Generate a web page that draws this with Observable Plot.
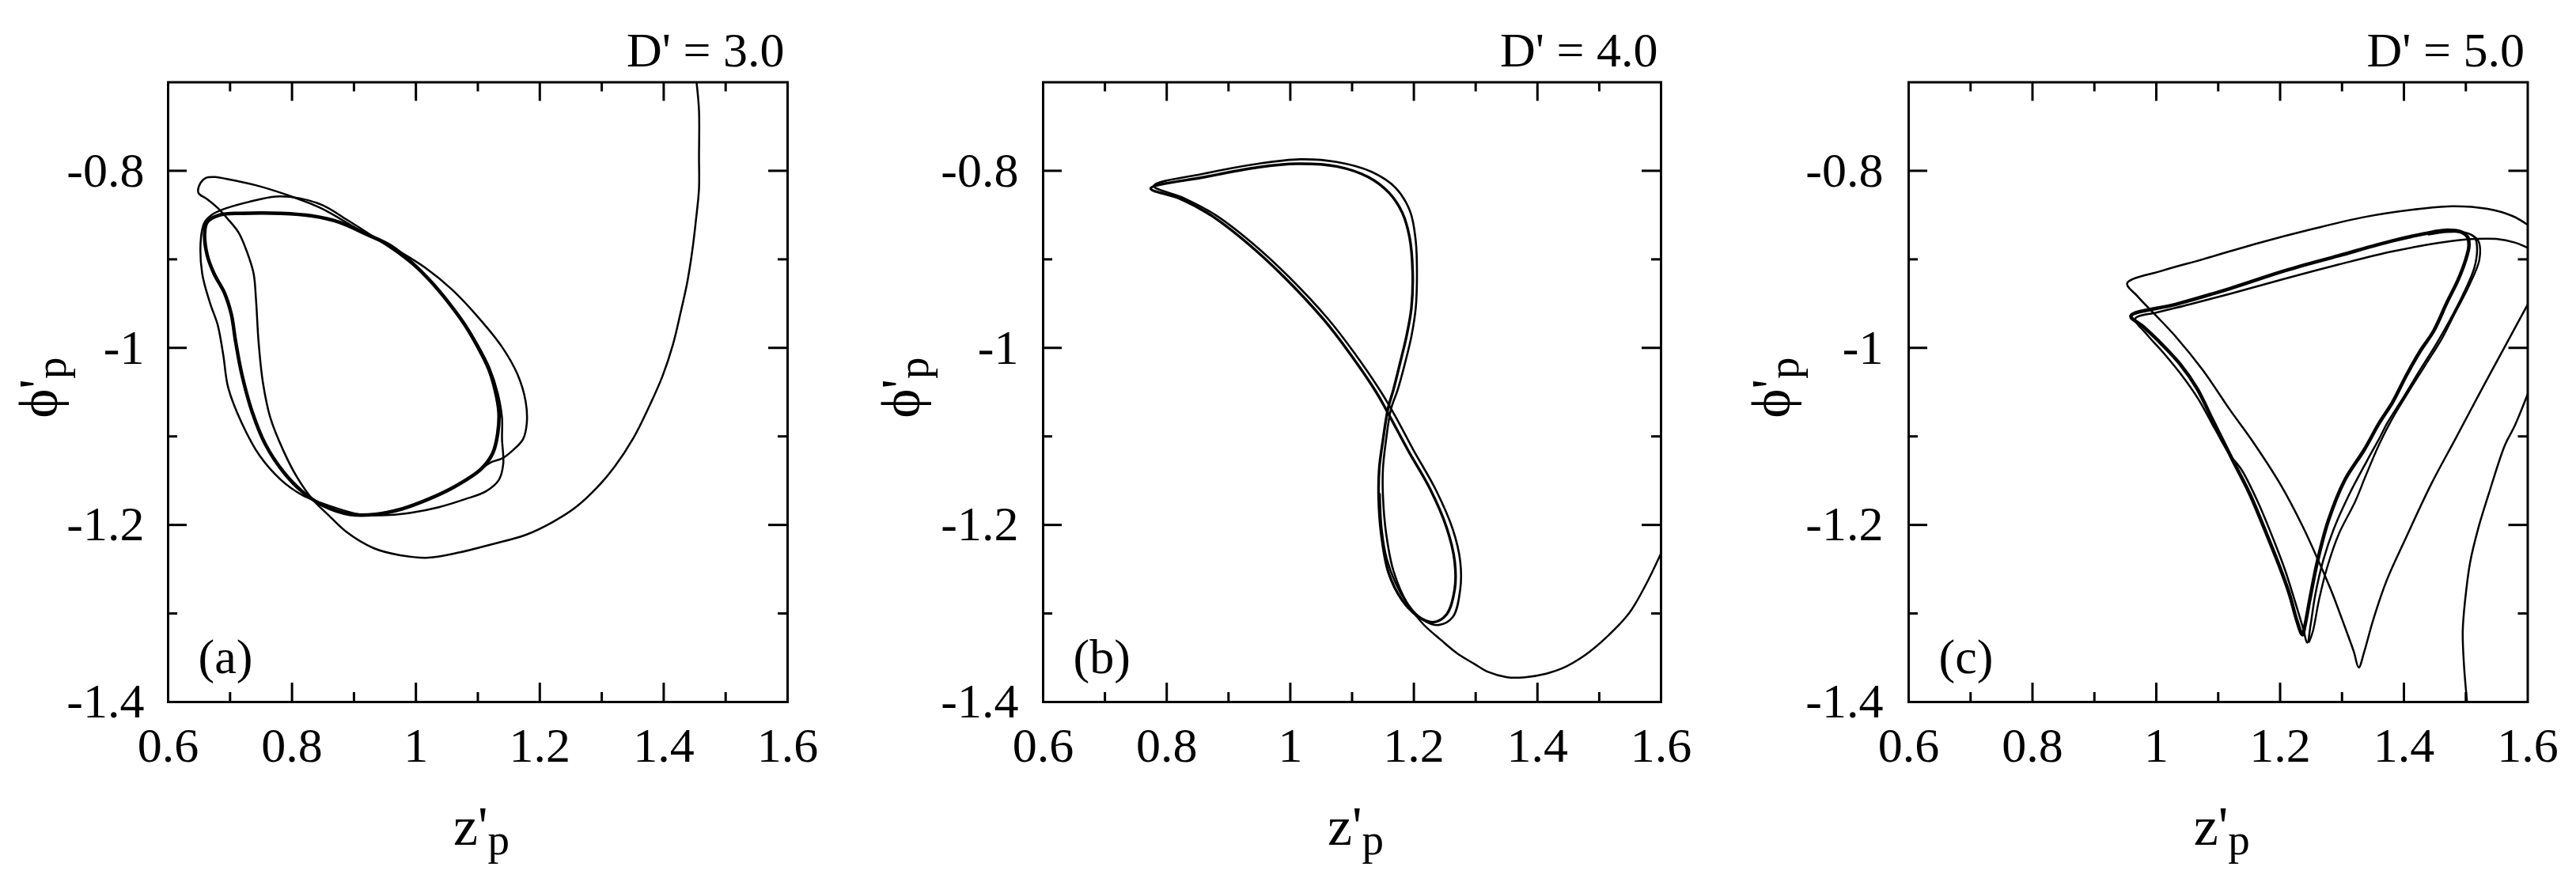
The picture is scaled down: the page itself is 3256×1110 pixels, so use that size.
<!DOCTYPE html>
<html>
<head>
<meta charset="utf-8">
<script src="https://cdn.jsdelivr.net/npm/d3@7"></script>
<script src="https://cdn.jsdelivr.net/npm/@observablehq/plot@0.6"></script>
<style>
  body { margin: 0; background: #fff; }
  #chart { display: flex; width: 3256px; height: 1110px; }
  #chart svg { display: block; }
</style>
</head>
<body>
<div id="chart"></div>
<script>
// axis ticks and labels
const xTickLabels = [0.6, 0.8, 1, 1.2, 1.4, 1.6];
const xTicksMajor = [0.8, 1, 1.2, 1.4];
const xTicksMinor = [0.7, 0.9, 1.1, 1.3, 1.5];
const yTickLabels = [-0.8, -1, -1.2, -1.4];
const yTicksMajor = [-0.8, -1, -1.2];
const yTicksMinor = [-0.9, -1.1, -1.3];
const titles = ["D' = 3.0", "D' = 4.0", "D' = 5.0"];
const letters = ["(a)", "(b)", "(c)"];

// (a) D' = 3.0  -- as [z'p, phi'p]
const aTransient = [[1.453,-0.700],[1.457,-0.732],[1.457,-0.785],[1.457,-0.820],[1.452,-0.856],[1.446,-0.891],[1.438,-0.926],[1.427,-0.961],[1.415,-0.996],[1.398,-1.032],[1.376,-1.067],[1.351,-1.102],[1.321,-1.134],[1.292,-1.158],[1.258,-1.180],[1.220,-1.197],[1.178,-1.211],[1.122,-1.222],[1.071,-1.231],[1.020,-1.237],[0.973,-1.234],[0.931,-1.226],[0.888,-1.208],[0.859,-1.189],[0.833,-1.171],[0.808,-1.146],[0.786,-1.116],[0.765,-1.079],[0.753,-1.039],[0.746,-0.993],[0.742,-0.947],[0.738,-0.916],[0.727,-0.891],[0.714,-0.870],[0.697,-0.855],[0.680,-0.842],[0.663,-0.832],[0.649,-0.825],[0.652,-0.814],[0.661,-0.808],[0.676,-0.807],[0.693,-0.809],[0.740,-0.816],[0.791,-0.827],[0.846,-0.842],[0.909,-0.867],[0.973,-0.891],[1.016,-0.910],[1.058,-0.934],[1.100,-0.965],[1.139,-0.999],[1.164,-1.030],[1.177,-1.060],[1.179,-1.085],[1.173,-1.103],[1.156,-1.116],[1.139,-1.125],[1.122,-1.129],[1.105,-1.137]];
const aLoop = [[0.683,-0.850],[0.719,-0.848],[0.782,-0.848],[0.833,-0.851],[0.876,-0.858],[0.918,-0.871],[0.960,-0.885],[0.994,-0.904],[1.024,-0.925],[1.054,-0.950],[1.079,-0.974],[1.100,-0.999],[1.117,-1.023],[1.128,-1.048],[1.134,-1.073],[1.132,-1.097],[1.124,-1.119],[1.105,-1.137],[1.062,-1.157],[1.020,-1.171],[0.977,-1.182],[0.935,-1.188],[0.893,-1.188],[0.850,-1.178],[0.816,-1.162],[0.786,-1.140],[0.757,-1.109],[0.736,-1.073],[0.719,-1.030],[0.709,-0.993],[0.702,-0.962],[0.691,-0.938],[0.674,-0.916],[0.663,-0.895],[0.659,-0.870],[0.663,-0.858]];
const aLoop2 = [[0.687,-0.844],[0.731,-0.835],[0.774,-0.829],[0.812,-0.831],[0.850,-0.839],[0.888,-0.855],[0.935,-0.876],[0.977,-0.896],[1.016,-0.919],[1.049,-0.945],[1.077,-0.971],[1.100,-0.997],[1.119,-1.023],[1.132,-1.051],[1.139,-1.079],[1.139,-1.103],[1.141,-1.131],[1.134,-1.149],[1.113,-1.162],[1.079,-1.171],[1.037,-1.180],[0.994,-1.186],[0.952,-1.189],[0.909,-1.188],[0.867,-1.180],[0.816,-1.166],[0.782,-1.149],[0.748,-1.122],[0.719,-1.085],[0.697,-1.045],[0.689,-1.008],[0.680,-0.974],[0.668,-0.950],[0.655,-0.916],[0.653,-0.876],[0.659,-0.858],[0.672,-0.849]];

// (b) D' = 4.0
const bLoop = [[0.774,-0.820],[0.862,-0.807],[0.948,-0.796],[1.011,-0.792],[1.075,-0.795],[1.126,-0.807],[1.160,-0.825],[1.181,-0.847],[1.193,-0.875],[1.198,-0.914],[1.196,-0.955],[1.188,-0.987],[1.177,-1.019],[1.167,-1.047],[1.158,-1.069],[1.150,-1.104],[1.144,-1.136],[1.143,-1.168],[1.147,-1.209],[1.159,-1.254],[1.181,-1.285],[1.208,-1.304],[1.231,-1.310],[1.253,-1.301],[1.266,-1.273],[1.266,-1.241],[1.253,-1.203],[1.226,-1.159],[1.190,-1.115],[1.160,-1.076],[1.139,-1.050],[1.096,-1.006],[1.054,-0.968],[0.990,-0.920],[0.931,-0.882],[0.871,-0.850],[0.820,-0.831]];
const bLoop2 = [[0.779,-0.817],[0.862,-0.803],[0.948,-0.792],[1.016,-0.787],[1.075,-0.790],[1.131,-0.801],[1.170,-0.819],[1.194,-0.846],[1.203,-0.879],[1.205,-0.917],[1.203,-0.955],[1.196,-0.987],[1.185,-1.019],[1.174,-1.047],[1.163,-1.069],[1.155,-1.104],[1.150,-1.136],[1.150,-1.168],[1.155,-1.209],[1.167,-1.252],[1.191,-1.290],[1.217,-1.308],[1.240,-1.313],[1.263,-1.304],[1.275,-1.273],[1.275,-1.241],[1.263,-1.205],[1.236,-1.161],[1.199,-1.115],[1.169,-1.076],[1.147,-1.050],[1.104,-1.006],[1.062,-0.968],[0.998,-0.920],[0.939,-0.882],[0.879,-0.850],[0.828,-0.831]];
const bTransient = [[1.600,-1.232],[1.575,-1.268],[1.548,-1.300],[1.510,-1.328],[1.477,-1.347],[1.440,-1.362],[1.414,-1.368],[1.380,-1.372],[1.351,-1.372],[1.320,-1.366],[1.298,-1.357],[1.270,-1.345],[1.244,-1.330],[1.215,-1.312],[1.190,-1.290],[1.170,-1.265],[1.156,-1.238],[1.148,-1.205],[1.145,-1.165]];

// (c) D' = 5.0
const cArcA = [[1.600,-0.861],[1.575,-0.851],[1.535,-0.843],[1.479,-0.840],[1.426,-0.843],[1.338,-0.852],[1.251,-0.866],[1.163,-0.882],[1.075,-0.900],[1.009,-0.913],[0.953,-0.927],[0.970,-0.942],[0.996,-0.961],[1.031,-0.987],[1.075,-1.025],[1.119,-1.070],[1.155,-1.105],[1.202,-1.156],[1.236,-1.201],[1.261,-1.239],[1.283,-1.275],[1.304,-1.314],[1.319,-1.343],[1.327,-1.361],[1.336,-1.343],[1.350,-1.308],[1.372,-1.263],[1.401,-1.218],[1.444,-1.154],[1.483,-1.103],[1.524,-1.049],[1.565,-0.996],[1.600,-0.951]];
const cArcB = [[1.600,-1.052],[1.579,-1.088],[1.563,-1.110],[1.537,-1.165],[1.520,-1.204],[1.507,-1.242],[1.499,-1.284],[1.495,-1.320],[1.497,-1.358],[1.502,-1.400]];
const cLoop = [[0.959,-0.964],[1.031,-0.951],[1.119,-0.933],[1.207,-0.913],[1.294,-0.896],[1.382,-0.879],[1.448,-0.869],[1.470,-0.867],[1.492,-0.869],[1.503,-0.875],[1.505,-0.885],[1.500,-0.900],[1.487,-0.924],[1.470,-0.948],[1.448,-0.981],[1.426,-1.004],[1.404,-1.031],[1.382,-1.061],[1.360,-1.085],[1.336,-1.115],[1.304,-1.150],[1.278,-1.195],[1.261,-1.239],[1.248,-1.284],[1.240,-1.314],[1.236,-1.324],[1.227,-1.308],[1.215,-1.278],[1.198,-1.245],[1.178,-1.210],[1.151,-1.165],[1.125,-1.129],[1.090,-1.080],[1.066,-1.046],[1.038,-1.018],[1.009,-0.996],[0.979,-0.976]];
const cEntry = [[1.600,-0.887],[1.579,-0.881],[1.549,-0.877],[1.514,-0.877],[1.470,-0.880],[1.382,-0.891],[1.294,-0.906],[1.207,-0.922],[1.119,-0.939],[1.053,-0.951],[1.001,-0.960],[0.966,-0.967],[0.985,-0.985],[1.012,-1.006],[1.040,-1.030],[1.068,-1.058],[1.095,-1.092],[1.118,-1.120],[1.138,-1.138],[1.164,-1.174],[1.189,-1.216],[1.208,-1.251],[1.223,-1.284],[1.236,-1.314],[1.244,-1.333],[1.249,-1.314],[1.257,-1.278],[1.270,-1.239],[1.287,-1.204],[1.312,-1.165],[1.340,-1.128],[1.362,-1.100],[1.373,-1.085],[1.400,-1.055],[1.426,-1.025],[1.452,-0.996],[1.474,-0.969],[1.496,-0.939],[1.514,-0.909],[1.518,-0.885],[1.514,-0.875],[1.500,-0.870],[1.470,-0.869],[1.440,-0.872]];
const cTrace3 = [[1.508,-0.872],[1.520,-0.879],[1.522,-0.900],[1.505,-0.930],[1.483,-0.960],[1.461,-0.990],[1.435,-1.019],[1.408,-1.049],[1.382,-1.079],[1.360,-1.109],[1.338,-1.145],[1.321,-1.174],[1.295,-1.210],[1.276,-1.248],[1.263,-1.284],[1.253,-1.320],[1.247,-1.332]];

// panel layout (pixels)
const H = 1110, MT = 103.5, MB = 223;
const panels = [
  {width: 1100, ml: 212, mr: 105, yLab: 72, tickPad: 30,
   traces: [{d: aTransient, w: 2.5}, {d: aLoop2, w: 2.5, closed: true}, {d: aLoop, w: 4.5, closed: true}]},
  {width: 1100, ml: 218, mr: 101, yLab: 62, tickPad: 31,
   traces: [{d: bTransient, w: 2.5}, {d: bLoop2, w: 2.6, closed: true}, {d: bLoop, w: 3.4, closed: true}]},
  {width: 1056, ml: 212, mr: 61.5, yLab: 62, tickPad: 32,
   traces: [{d: cArcA, w: 2.5}, {d: cArcB, w: 2.5}, {d: cTrace3, w: 2.4}, {d: cEntry, w: 2.5}, {d: cLoop, w: 4.5, closed: true}]}
];

panels.forEach((p, i) => {
  const fw = p.width - p.ml - p.mr;
  const fh = H - MT - MB;
  const marks = p.traces.map(t => Plot.line(t.d, {
    x: d => d[0], y: d => d[1], stroke: "black", strokeWidth: t.w,
    curve: t.closed ? "catmull-rom-closed" : "catmull-rom", clip: true
  }));
  // inward ticks on all four sides
  const tk = {stroke: "black", strokeWidth: 3};
  marks.push(
    Plot.tickX(xTicksMajor, {x: d => d, insetTop: fh - 24, ...tk}),
    Plot.tickX(xTicksMajor, {x: d => d, insetBottom: fh - 24, ...tk}),
    Plot.tickX(xTicksMinor, {x: d => d, insetTop: fh - 12, ...tk}),
    Plot.tickX(xTicksMinor, {x: d => d, insetBottom: fh - 12, ...tk}),
    Plot.tickY(yTicksMajor, {y: d => d, insetRight: fw - 24, ...tk}),
    Plot.tickY(yTicksMajor, {y: d => d, insetLeft: fw - 24, ...tk}),
    Plot.tickY(yTicksMinor, {y: d => d, insetRight: fw - 12, ...tk}),
    Plot.tickY(yTicksMinor, {y: d => d, insetLeft: fw - 12, ...tk}),
    Plot.frame({stroke: "black", strokeWidth: 3}),
    Plot.axisX(xTickLabels, {tickSize: 0, tickPadding: 31, tickFormat: d => String(d), label: null}),
    Plot.axisY(yTickLabels, {tickSize: 0, tickPadding: p.tickPad, tickFormat: d => String(d), label: null}),
    Plot.text([titles[i]], {frameAnchor: "top-right", text: d => d, textAnchor: "end", lineAnchor: "middle", dx: -4, dy: -39.5, fontSize: 62}),
    Plot.text([letters[i]], {frameAnchor: "bottom-left", text: d => d, textAnchor: "start", lineAnchor: "middle", dx: 38, dy: -56, fontSize: 62})
  );

  const svg = Plot.plot({
    width: p.width,
    height: H,
    marginTop: MT,
    marginBottom: MB,
    marginLeft: p.ml,
    marginRight: p.mr,
    x: {domain: [0.6, 1.6]},
    y: {domain: [-1.4, -0.7]},
    style: {fontFamily: "'Liberation Serif', 'Times New Roman', serif", fontSize: "62px", color: "black", background: "white", overflow: "visible"},
    marks
  });

  // axis titles with primes and subscripts
  const s = d3.select(svg);
  const xl = s.append("text")
    .attr("x", p.ml + fw / 2 + 5).attr("y", 1068)
    .attr("text-anchor", "middle").attr("font-size", 70).attr("fill", "black");
  xl.append("tspan").text("z'");
  xl.append("tspan").attr("font-size", 55).attr("dy", 12).text("p");

  const yl = s.append("text")
    .attr("transform", `translate(${p.yLab},490) rotate(-90)`)
    .attr("text-anchor", "middle").attr("font-size", 70).attr("fill", "black");
  yl.append("tspan").text("ϕ'");
  yl.append("tspan").attr("font-size", 55).attr("dy", 11).text("p");

  d3.select("#chart").append(() => svg);
});
</script>
</body>
</html>
